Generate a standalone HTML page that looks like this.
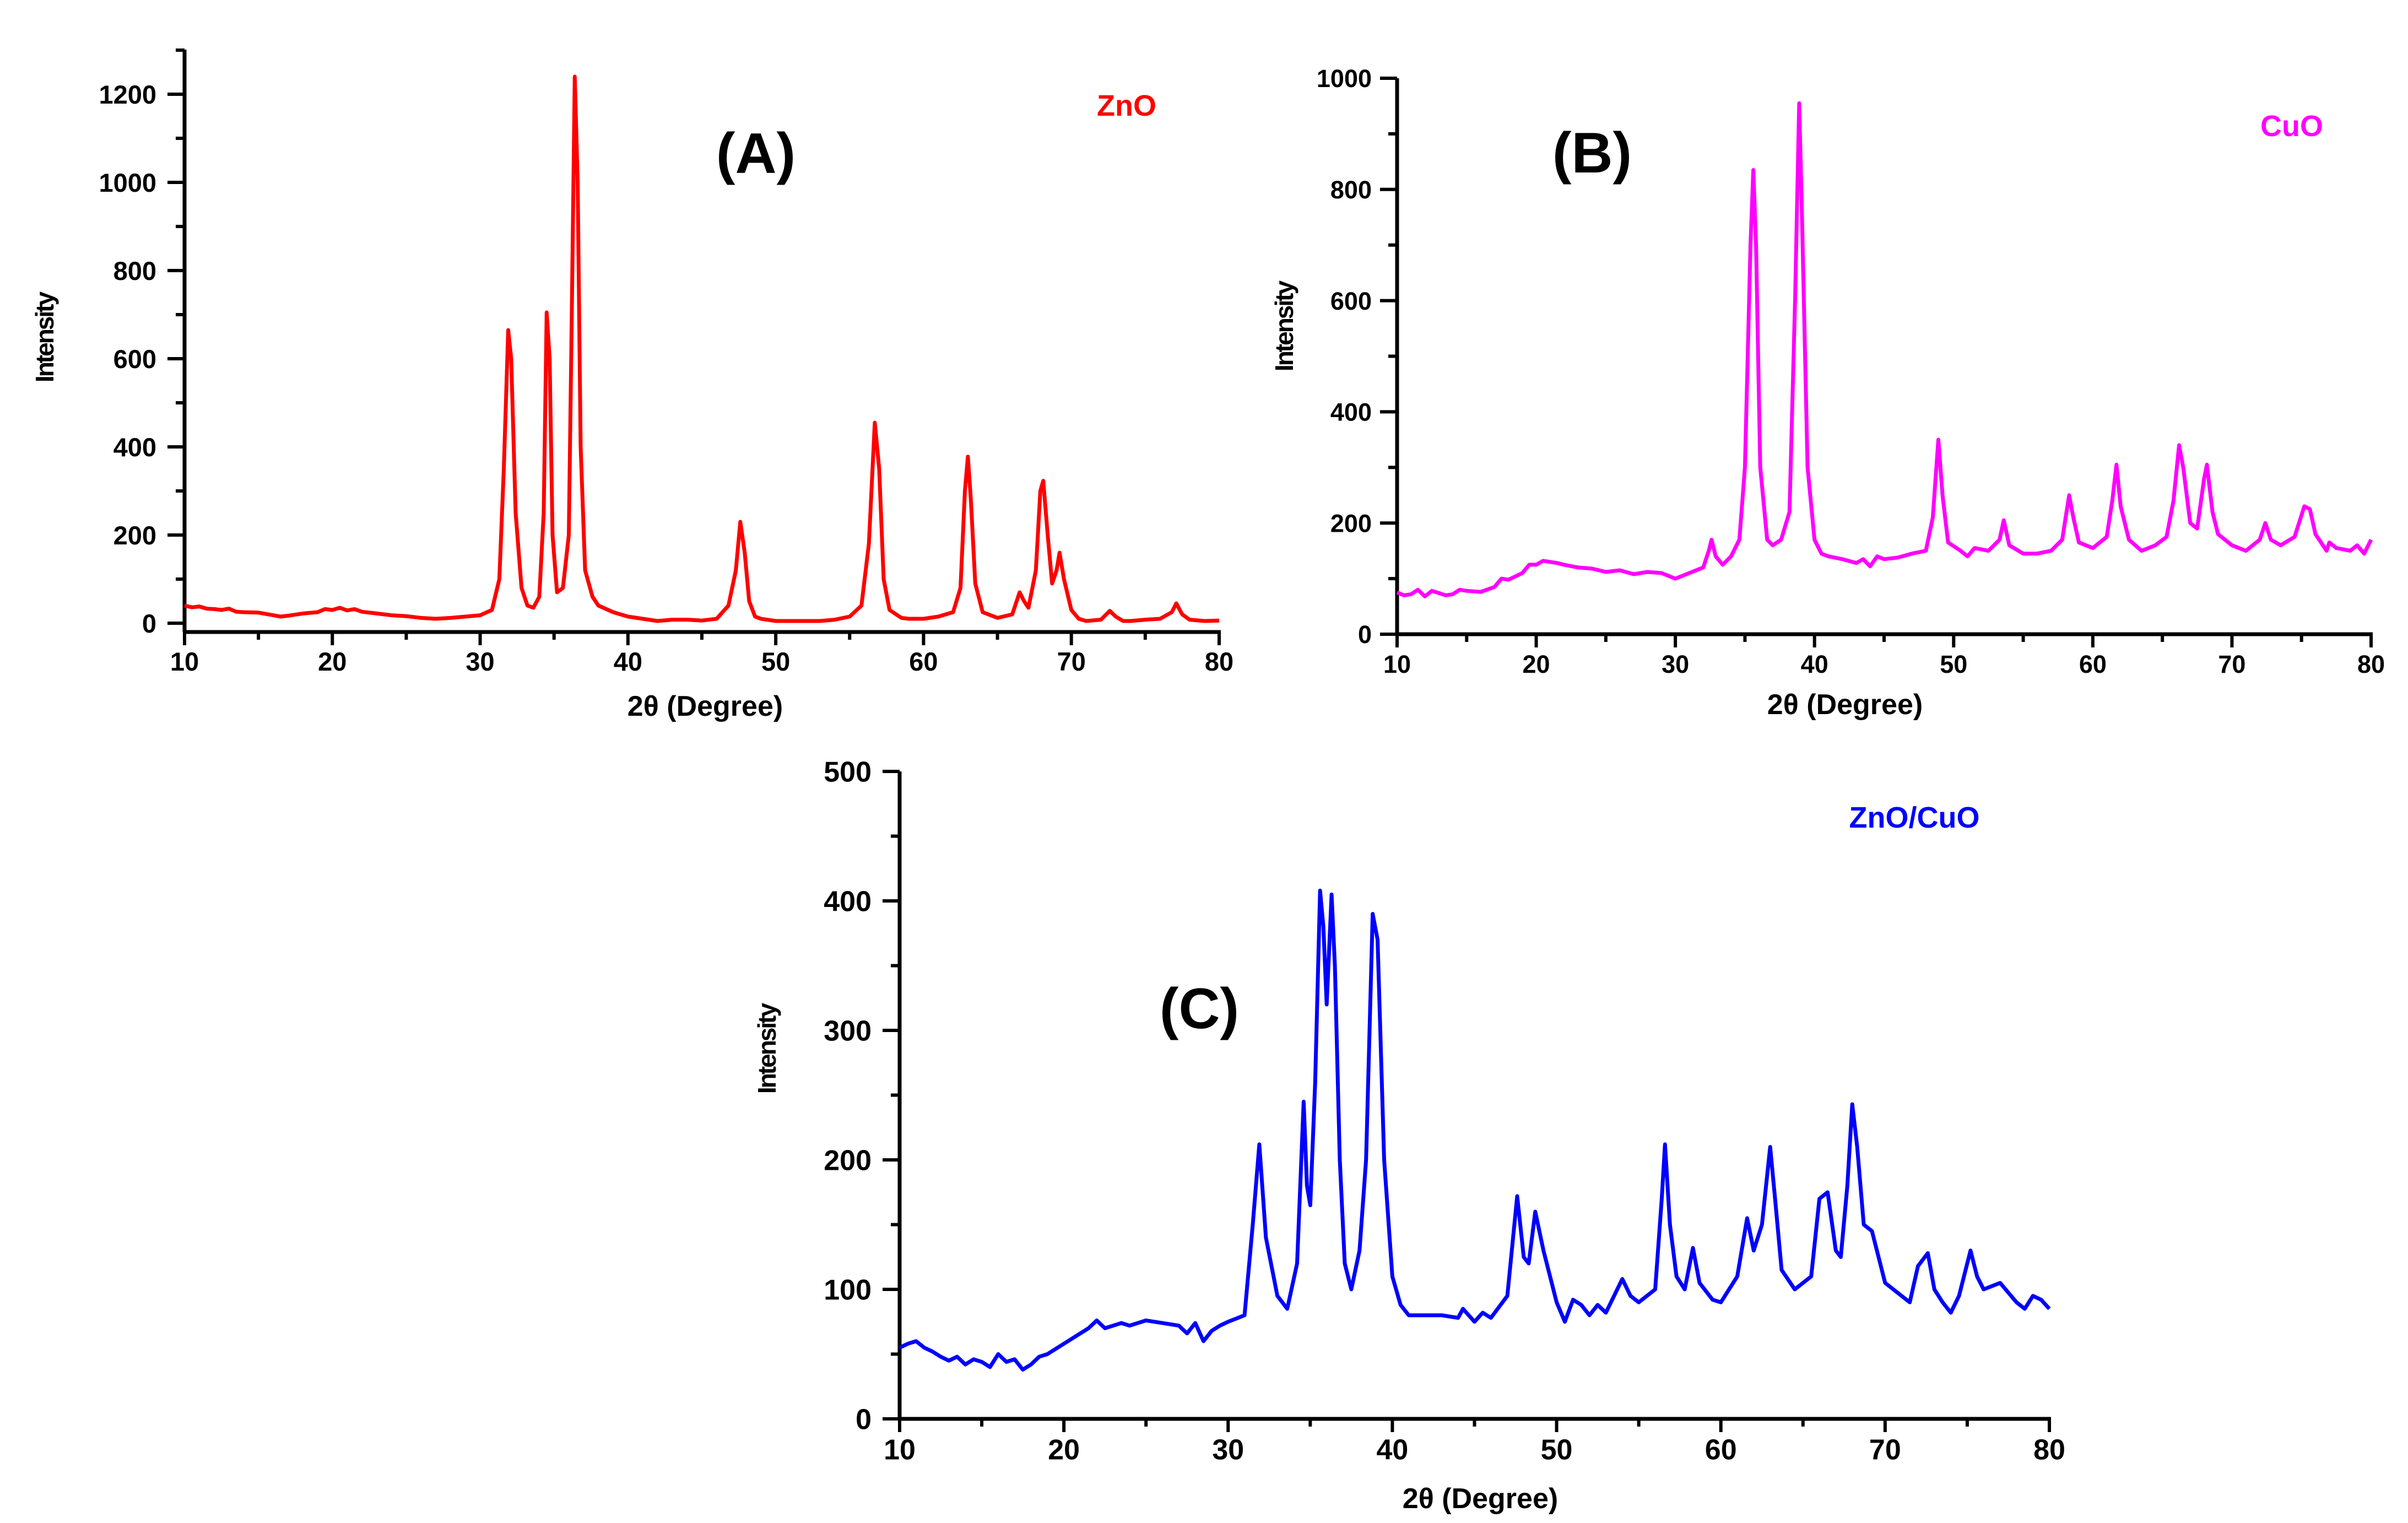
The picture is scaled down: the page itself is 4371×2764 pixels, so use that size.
<!DOCTYPE html>
<html><head><meta charset="utf-8"><style>
html,body{margin:0;padding:0;background:#fff;}
svg{display:block;}
text{font-family:"Liberation Sans",sans-serif;font-weight:bold;}
</style></head><body>
<svg id="fig" width="4371" height="2764" viewBox="0 0 4371 2764" xmlns="http://www.w3.org/2000/svg">
<rect width="4371" height="2764" fill="#fff"/>
</svg>
<script>
// ---- Panel A: ZnO ----
const zno2Theta = [10,10.5,11,11.5,12,12.5,13,13.5,14,15,16,16.5,17,18,19,19.5,20,20.5,21,21.5,22,23,24,25,26,27,28,29,30,30.8,31.3,31.6,31.9,32.1,32.4,32.8,33.2,33.6,34,34.3,34.5,34.7,34.9,35.2,35.6,36,36.2,36.4,36.6,36.8,37.1,37.6,38,39,40,41,42,43,44,45,46,46.8,47.3,47.6,47.9,48.2,48.6,49,50,51,52,53,54,55,55.8,56.3,56.7,57,57.3,57.7,58.5,59,60,61,62,62.5,62.8,63,63.2,63.5,64,65,66,66.5,66.8,67.1,67.6,67.9,68.1,68.4,68.7,69,69.2,69.5,70,70.5,71,72,72.6,73,73.5,74,75,76,76.8,77.1,77.5,78,79,80];
const znoIntensity = [40,36,38,33,32,30,33,26,25,24,18,15,17,22,25,32,30,35,29,32,26,22,18,16,12,10,12,15,18,30,100,350,665,600,250,80,40,35,60,250,705,600,200,70,80,200,700,1240,1000,400,120,60,40,25,15,10,5,8,8,6,10,40,120,230,160,50,15,10,5,5,5,5,8,15,40,180,455,350,100,30,12,10,10,15,25,80,300,378,280,90,25,12,20,70,50,35,120,300,323,200,90,120,160,100,30,10,5,8,28,15,5,5,8,10,25,45,20,8,5,6];
const znoYTicks = [0,200,400,600,800,1000,1200];
// ---- Panel B: CuO ----
const cuo2Theta = [10,10.5,11,11.5,12,12.5,13,13.5,14,14.5,15,16,17,17.5,18,19,19.5,20,20.5,21,21.5,22,23,24,25,26,27,28,29,30,31,32,32.4,32.6,32.9,33.4,34,34.6,35,35.4,35.6,35.8,36.1,36.6,37,37.6,38.2,38.6,38.9,39.1,39.5,40,40.5,41,42,43,43.5,44,44.5,45,46,47,48,48.5,48.9,49.2,49.6,50.5,51,51.5,52.5,53.3,53.6,54,55,56,57,57.8,58.3,58.6,59,60,61,61.4,61.7,62,62.6,63.5,64.5,65.3,65.8,66.2,66.5,67,67.5,68,68.2,68.6,69,70,71,72,72.4,72.8,73.5,74.5,75.2,75.6,76,76.8,77,77.5,78.5,79,79.5,80];
const cuoIntensity = [75,70,72,80,68,78,74,70,72,80,78,76,85,100,98,110,125,125,132,130,128,125,120,118,112,115,108,112,110,100,110,120,150,170,140,125,140,170,300,700,835,700,300,170,160,170,220,600,955,750,300,170,145,140,135,128,135,122,140,135,138,145,150,210,350,250,165,150,140,155,150,170,205,160,145,145,150,170,250,210,165,155,175,240,305,230,170,150,160,175,240,340,300,200,190,280,305,220,180,160,150,170,200,170,160,175,230,225,180,150,165,155,150,160,145,170];
const cuoYTicks = [0,200,400,600,800,1000];
// ---- Panel C: ZnO/CuO ----
const mix2Theta = [10,10.5,11,11.5,12,12.5,13,13.5,14,14.5,15,15.5,16,16.5,17,17.5,18,18.5,19,19.5,20,20.5,21,21.5,22,22.5,23,23.5,24,25,26,27,27.5,28,28.5,29,29.5,30,30.6,31,31.5,31.9,32.3,33,33.6,34.2,34.6,34.8,35,35.3,35.6,35.8,36,36.3,36.5,36.8,37.1,37.5,38,38.4,38.8,39.1,39.5,40,40.5,41,42,43,44,44.3,45,45.5,46,47,47.6,48,48.3,48.7,49.2,50,50.5,51,51.5,52,52.5,53,53.5,54,54.5,55,56,56.4,56.6,56.9,57.3,57.8,58.3,58.7,59.5,60,61,61.6,62,62.5,63,63.3,63.7,64.5,65,65.5,66,66.5,67,67.3,67.7,68,68.3,68.7,69.2,70,70.5,71,71.5,72,72.6,73,73.5,74,74.5,75.2,75.6,76,77,78,78.5,79,79.5,80];
const mixIntensity = [55,58,60,55,52,48,45,48,42,46,44,40,50,44,46,38,42,48,50,54,58,62,66,70,76,70,72,74,72,76,74,72,66,74,60,68,72,75,78,80,150,212,140,95,85,120,245,180,165,260,408,380,320,405,350,200,120,100,130,200,390,370,200,110,88,80,80,80,78,85,75,82,78,95,172,125,120,160,130,90,75,92,88,80,88,82,95,108,95,90,100,170,212,150,110,100,132,105,92,90,110,155,130,150,210,170,115,100,105,110,170,175,130,125,180,243,210,150,145,105,100,95,90,118,128,100,90,82,95,130,110,100,105,90,85,95,92,85];
const mixYTicks = [0,100,200,300,400,500];
const xTicks = [10,20,30,40,50,60,70,80];

const NS = "http://www.w3.org/2000/svg";
const svg = document.getElementById('fig');
function mk(tag, attrs, parent){
  const e = document.createElementNS(NS, tag);
  for (const k in attrs) e.setAttribute(k, attrs[k]);
  (parent||svg).appendChild(e);
  return e;
}
function panel(cfg){
  const g = mk('g', {});
  
  
  const X = v => cfg.x0 + (v - 10) * (cfg.x1 - cfg.x0) / 70;
  const Y = v => cfg.y0 - v * (cfg.y0 - cfg.yTop) / cfg.yMax;
  const axY = cfg.axisY;
  const yAxis = mk('line', {x1:cfg.x0, y1:cfg.yAxTop, x2:cfg.x0, y2:axY, stroke:'#000','stroke-width':7}, g);
  
  
  const xAxis = mk('line', {x1:cfg.x0-3, y1:axY, x2:cfg.x1+3, y2:axY, stroke:'#000','stroke-width':7}, g);
  
  
  const yStep = cfg.yTicks[1] - cfg.yTicks[0];
  for (let v = 0; v <= cfg.yAxMax + 1e-9; v += yStep/2) {
    const major = Math.abs(v / yStep - Math.round(v / yStep)) < 1e-6;
    const t = mk('line', {x1:cfg.x0 - (major?31:16), y1:Y(v), x2:cfg.x0, y2:Y(v), stroke:'#000','stroke-width':6}, g);
    
    
  }
  cfg.yTicks.forEach(v => {
    const t = mk('text', {x:cfg.labelRight, y:Y(v) + cfg.fs*0.36, 'font-size':cfg.fs, 'text-anchor':'end', fill:'#000'}, g);
    t.textContent = v;
    
    
  });
  for (let v = 10; v <= 80; v += 5) {
    const major = v % 10 === 0;
    const t = mk('line', {x1:X(v), y1:axY, x2:X(v), y2:axY + (major?24:14), stroke:'#000','stroke-width':6}, g);
    
    
  }
  xTicks.forEach(v => {
    const t = mk('text', {x:X(v), y:cfg.xLabY + cfg.fs*0.36, 'font-size':cfg.fs, 'text-anchor':'middle', fill:'#000'}, g);
    t.textContent = v;
    
    
  });
  let d = '';
  cfg.xs.forEach((xv, i) => { d += (i ? 'L' : 'M') + X(xv).toFixed(1) + ',' + Y(cfg.ys[i]).toFixed(1); });
  const p = mk('path', {d:d, fill:'none', stroke:cfg.color, 'stroke-width':7, 'stroke-linejoin':'round'}, g);
  
  
  const xt = mk('text', {x:cfg.xTitle[0], y:cfg.xTitle[1] + 19, 'font-size':52, 'text-anchor':'middle', fill:'#000'}, g);
  xt.textContent = '2θ (Degree)';
  
  
  const yt = mk('text', {x:0, y:0, 'font-size':46, 'text-anchor':'middle', fill:'#000', transform:'translate(' + (cfg.yTitle[0] + 16) + ',' + cfg.yTitle[1] + ') rotate(-90)', 'letter-spacing':'-3'}, g);
  yt.textContent = 'Intensity';
  
  
  const pl = mk('text', {x:cfg.letter[0], y:cfg.letter[1] + 38, 'font-size':104, 'text-anchor':'middle', fill:'#000', transform:'translate(' + cfg.letter[0]*0.15 + ',0) scale(0.85,1.05)', 'transform-origin':cfg.letter[0] + 'px ' + cfg.letter[1] + 'px'}, g);
  pl.setAttribute('transform', '');
  pl.textContent = cfg.letterText;
  
  
  const lg = mk('text', {x:cfg.legend[0], y:cfg.legend[1] + 19, 'font-size':54, 'text-anchor':'middle', fill:cfg.color}, g);
  lg.textContent = cfg.legendText;
  
  
}
panel({name:'panel-a-zno', x0:335, x1:2213, y0:1131, yTop:171, yMax:1200, yAxTop:90, yAxMax:1350, axisY:1147,
  yTicks:znoYTicks, xs:zno2Theta, ys:znoIntensity, color:'#ff0000', seriesName:'zno-pattern',
  labelRight:284, fs:47, xLabY:1200, xTitle:[1280,1280], yTitle:[81,613], letter:[1372,276], letterText:'(A)',
  legend:[2045,191], legendText:'ZnO'});
panel({name:'panel-b-cuo', x0:2536, x1:4304, y0:1151, yTop:142, yMax:1000, yAxTop:142, yAxMax:1000, axisY:1151,
  yTicks:cuoYTicks, xs:cuo2Theta, ys:cuoIntensity, color:'#ff00ff', seriesName:'cuo-pattern',
  labelRight:2490, fs:45, xLabY:1205, xTitle:[3349,1277], yTitle:[2331,593], letter:[2890,275], letterText:'(B)',
  legend:[4160,228], legendText:'CuO'});
panel({name:'panel-c-zno-cuo', x0:1633, x1:3720, y0:2575, yTop:1400, yMax:500, yAxTop:1400, yAxMax:500, axisY:2575,
  yTicks:mixYTicks, xs:mix2Theta, ys:mixIntensity, color:'#0000ff', seriesName:'zno-cuo-pattern',
  labelRight:1582, fs:52, xLabY:2630, xTitle:[2687,2718], yTitle:[1392,1904], letter:[2177,1828], letterText:'(C)',
  legend:[3475,1483], legendText:'ZnO/CuO'});
</script>
</body></html>
